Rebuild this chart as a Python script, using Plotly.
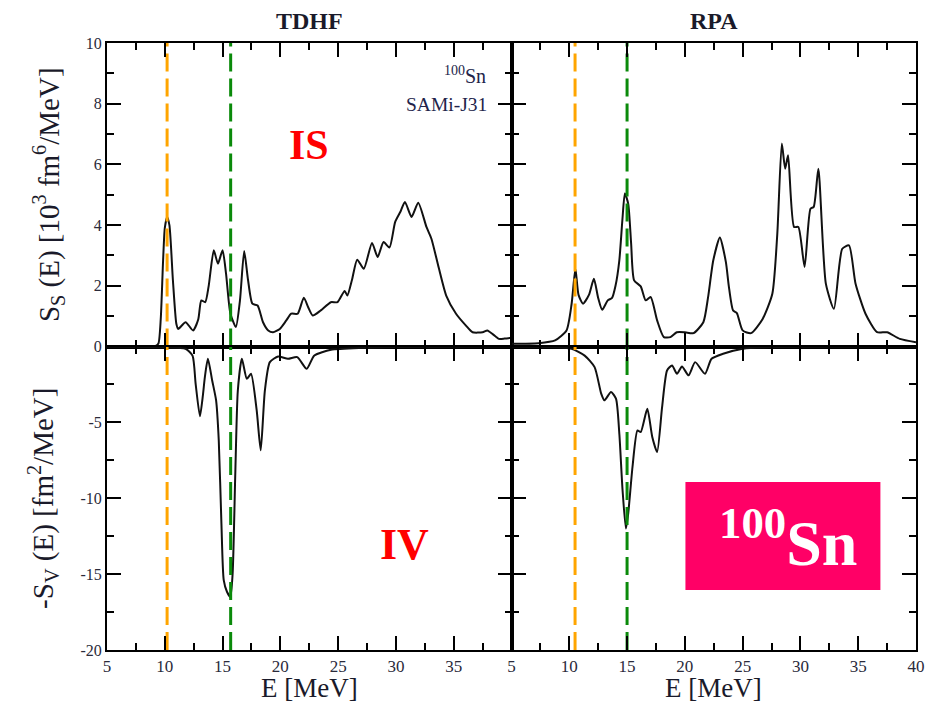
import plotly.graph_objects as go

# Isoscalar strength S_S(E) [10^3 fm^6/MeV]
tdhf_is_e = [5, 8, 9.2, 9.45, 9.65, 9.85, 10.0, 10.2, 10.4, 10.7, 11.0, 11.16, 11.8, 12.45,
             12.9, 13.16, 13.5, 13.8, 14.24, 14.6, 15.0, 15.3, 15.67, 16.15, 16.5, 16.87,
             17.2, 17.58, 18.03, 18.5, 18.95, 19.37, 19.95, 20.5, 20.94, 21.5, 22.03, 22.4,
             22.8, 23.5, 24.37, 24.94, 25.56, 25.8, 26.2, 26.65, 27.22, 27.93, 28.42, 28.93,
             29.44, 29.93, 30.4, 30.78, 31.35, 31.93, 32.64, 33.07, 33.7, 34.35, 35.2, 36.06,
             36.63, 37.5, 37.91, 38.4, 38.91, 39.4, 40]
tdhf_is_s = [0, 0, 0.02, 0.1, 0.9, 2.8, 3.9, 4.27, 4.0, 2.2, 0.75, 0.58, 0.8, 0.53,
             0.9, 1.52, 1.46, 2.0, 3.17, 2.73, 3.17, 2.4, 1.1, 0.64, 1.5, 3.15,
             2.2, 1.41, 1.35, 0.8, 0.53, 0.47, 0.58, 0.85, 1.08, 1.08, 1.61, 1.3,
             1.02, 1.19, 1.46, 1.46, 1.83, 1.68, 2.2, 2.86, 2.56, 3.41, 2.95, 3.44,
             3.26, 4.10, 4.45, 4.76, 4.27, 4.74, 3.94, 3.55, 2.6, 1.68, 1.08, 0.69,
             0.47, 0.47, 0.53, 0.4, 0.25, 0.26, 0.29]

rpa_is_e = [5, 7.34, 8.77, 9.76, 10.2, 10.53, 10.8, 11.19, 11.7, 12.13, 12.5, 12.85, 13.33,
            13.7, 14.0, 14.33, 14.6, 14.81, 15.1, 15.35, 15.61, 16.18, 16.61, 17.04, 17.6,
            18.18, 18.75, 19.3, 20.0, 20.74, 21.6, 22.0, 22.46, 23.03, 23.55, 23.8, 24.17,
            24.5, 25.0, 25.73, 26.73, 27.57, 28.0, 28.39, 28.68, 28.93, 29.45, 29.82, 30.36,
            30.87, 31.15, 31.55, 32.2, 32.9, 33.62, 34.2, 34.77, 35.63, 36.63, 37.5, 38.6, 40]
rpa_is_s = [0.09, 0.11, 0.2, 0.53, 1.4, 2.56, 1.7, 1.41, 1.7, 2.23, 1.6, 1.21, 1.52,
            1.6, 2.0, 2.84, 4.2, 5.04, 4.7, 3.4, 2.18, 1.98, 1.52, 1.63, 0.86,
            0.31, 0.31, 0.47, 0.47, 0.44, 0.8, 1.6, 2.84, 3.59, 2.78, 2.0, 1.19,
            1.1, 0.53, 0.44, 0.91, 1.74, 3.72, 6.69, 5.86, 6.30, 3.94, 3.94, 2.62,
            4.54, 4.6, 5.86, 2.07, 1.24, 3.22, 3.33, 2.07, 1.08, 0.47, 0.47, 0.25, 0.14]

# Isovector strength, plotted as -S_V(E) [fm^2/MeV]
tdhf_iv_e = [5, 10, 11.8, 12.4, 12.67, 13.04, 13.3, 13.47, 13.73, 14.1, 14.44, 14.67, 14.9,
             15.1, 15.38, 15.67, 15.87, 16.1, 16.32, 16.67, 17.1, 17.46, 17.95, 18.3, 18.66,
             19.09, 19.8, 20.66, 21.46, 22.28, 22.94, 24.37, 27.2, 30, 40]
tdhf_iv_s = [0, -0.05, -0.15, -0.6, -2.46, -4.6, -3.2, -2.0, -0.81, -2.24, -3.55, -6.18, -11.67,
             -15.4, -16.16, -16.5, -14.96, -8.4, -2.9, -0.81, -2.13, -1.8, -4.2, -6.84, -2.9,
             -1.03, -0.66, -0.81, -0.7, -1.47, -0.59, -0.22, -0.09, -0.03, 0]

rpa_iv_e = [5, 8, 10.2, 11.33, 12.19, 12.76, 13.04, 13.61, 14.04, 14.33, 14.61, 14.9, 15.1,
            15.47, 15.9, 16.18, 16.75, 17.18, 17.6, 18.03, 18.46, 18.89, 19.32, 19.75, 20.32,
            20.89, 21.74, 22.31, 23.31, 25.02, 27.3, 30, 40]
rpa_iv_s = [0, -0.03, -0.15, -0.6, -1.36, -3.1, -3.55, -3.0, -3.44, -5.75, -9.47, -12.0, -11.0,
            -7.94, -5.53, -5.64, -4.1, -5.96, -6.95, -4.0, -1.58, -1.25, -1.8, -1.32, -1.9,
            -1.03, -1.8, -0.81, -0.48, -0.15, -0.04, -0.02, 0]

# Reference energies marked by dashed lines [MeV]
tdhf_marks = [10.2, 15.7]
rpa_marks = [10.5, 15.0]
mark_colors = ["#FFA500", "#0A8A0A"]

x_left_ticks = [5, 10, 15, 20, 25, 30, 35]
x_right_ticks = [5, 10, 15, 20, 25, 30, 35, 40]
y_top_ticks = [0, 2, 4, 6, 8, 10]
y_bot_ticks = [-20, -15, -10, -5]

SERIF = "Liberation Serif"
INK = "#111111"
TXT = "#1a1a2a"

fig = go.Figure()

panels = [
    (tdhf_is_e, tdhf_is_s, "x", "y"),
    (rpa_is_e, rpa_is_s, "x2", "y2"),
    (tdhf_iv_e, tdhf_iv_s, "x3", "y3"),
    (rpa_iv_e, rpa_iv_s, "x4", "y4"),
]
for e, s, xa, ya in panels:
    fig.add_trace(go.Scatter(x=e, y=s, xaxis=xa, yaxis=ya, mode="lines",
                             line=dict(color=INK, width=2, shape="spline", smoothing=0.6),
                             showlegend=False, hoverinfo="skip"))

# Dashed marker lines span both rows of each column
for marks, xtop, ytop, xbot, ybot in [(tdhf_marks, "x", "y", "x3", "y3"),
                                      (rpa_marks, "x2", "y2", "x4", "y4")]:
    for m, c in zip(marks, mark_colors):
        fig.add_trace(go.Scatter(x=[m, m], y=[0, 10], xaxis=xtop, yaxis=ytop, mode="lines",
                                 line=dict(color=c, width=3, dash="18px,7px"),
                                 showlegend=False, hoverinfo="skip"))
        fig.add_trace(go.Scatter(x=[m, m], y=[-20, 0], xaxis=xbot, yaxis=ybot, mode="lines",
                                 line=dict(color=c, width=3, dash="18px,7px"),
                                 showlegend=False, hoverinfo="skip"))

minor_common = dict(ticks="inside", ticklen=7, tickwidth=2, tickcolor="black", showgrid=False)


def base_axis():
    return dict(showline=True, linewidth=2, linecolor="black", mirror="ticks",
                ticks="inside", ticklen=14, tickwidth=2, tickcolor="black",
                showgrid=False, zeroline=False, tickmode="array")


def xaxis(domain, anchor, labels, vals):
    d = base_axis()
    d.update(domain=domain, anchor=anchor, range=[5, 40], tickvals=vals,
             minor=dict(minor_common, dtick=2.5, tick0=5),
             tickfont=dict(family=SERIF, size=17, color="#2a2a3a"))
    if labels is None:
        d["showticklabels"] = False
    else:
        d["ticktext"] = [str(v) for v in labels]
    return d


def yaxis(domain, anchor, rng, vals, labels, minor_dtick, title=None):
    d = base_axis()
    d.update(domain=domain, anchor=anchor, range=rng, tickvals=vals,
             minor=dict(minor_common, dtick=minor_dtick, tick0=0),
             tickfont=dict(family=SERIF, size=16, color="#2a2a3a"))
    if labels is None:
        d["showticklabels"] = False
    else:
        d["ticktext"] = [str(v) for v in labels]
    if title:
        d["title"] = dict(text=title, standoff=18,
                          font=dict(family=SERIF, size=29, color=TXT))
    return d


fig.update_layout(
    width=937, height=706,
    margin=dict(l=107, r=12, t=43, b=56),
    paper_bgcolor="white", plot_bgcolor="white",
    xaxis=xaxis([0, 0.5], "y", None, x_right_ticks),
    xaxis2=xaxis([0.5, 1], "y2", None, x_right_ticks),
    xaxis3=xaxis([0, 0.5], "y3", x_left_ticks, x_left_ticks),
    xaxis4=xaxis([0.5, 1], "y4", x_right_ticks, x_right_ticks),
    yaxis=yaxis([0.5, 1], "x", [0, 10], y_top_ticks, y_top_ticks, 1,
                "S<sub>S</sub> (E) [10<sup>3</sup> fm<sup>6</sup>/MeV]"),
    yaxis2=yaxis([0.5, 1], "x2", [0, 10], y_top_ticks, None, 1),
    yaxis3=yaxis([0, 0.5], "x3", [-20, 0], y_bot_ticks, y_bot_ticks, 2.5,
                 "-S<sub>V</sub> (E) [fm<sup>2</sup>/MeV]"),
    yaxis4=yaxis([0, 0.5], "x4", [-20, 0], y_bot_ticks, None, 2.5),
)


def label(text, x, y, size, color, xanchor="center"):
    return dict(text=text, x=x, y=y, xref="paper", yref="paper", showarrow=False,
                xanchor=xanchor, yanchor="middle",
                font=dict(family=SERIF, size=size, color=color))


ann = [
    label("<b>TDHF</b>", 0.25, 1.036, 24, TXT),
    label("<b>RPA</b>", 0.75, 1.036, 24, TXT),
    label("E [MeV]", 0.25, -0.063, 27, TXT),
    label("E [MeV]", 0.75, -0.063, 27, TXT),
    label("<b>IS</b>", 0.2494, 0.832, 42, "#FF0000"),
    label("<b>IV</b>", 0.368, 0.173, 44, "#FF0000"),
    label("<sup>100</sup>Sn", 0.471, 0.948, 20, "#22244a", xanchor="right"),
    label("SAMi-J31", 0.472, 0.899, 19.5, "#22244a", xanchor="right"),
    label("<b><sup>100</sup>Sn</b>", 0.8417, 0.183, 64, "white"),
]
fig.update_layout(annotations=ann)

# Highlight badge behind the isotope label
fig.add_shape(type="rect", xref="paper", yref="paper", x0=0.715, x1=0.956, y0=0.0988, y1=0.2768,
              fillcolor="#FF0066", line=dict(width=0), layer="above")

fig.write_html("out.html")
